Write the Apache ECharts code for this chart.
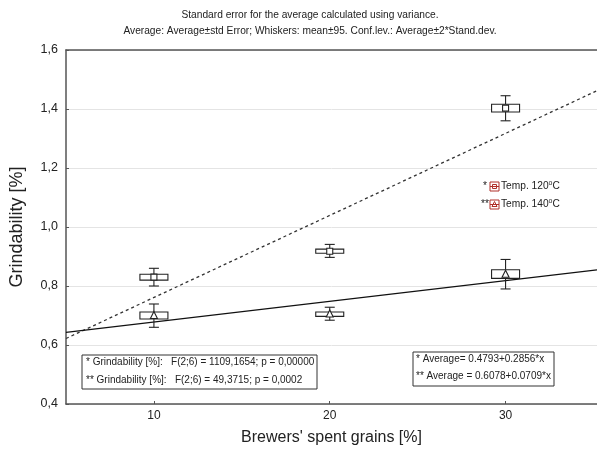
<!DOCTYPE html>
<html><head><meta charset="utf-8">
<script src="https://cdn.jsdelivr.net/npm/echarts@6/dist/echarts.min.js"></script>
<style>html,body{margin:0;padding:0;background:#fff}#c{width:597px;height:451px}</style>
</head><body><div id="c"></div>
<script>
// ---- data ----
const categories = [10, 20, 30];
const mean120 = [0.830, 0.918, 1.403];
const boxLo120 = [0.820, 0.911, 1.390];
const boxHi120 = [0.840, 0.925, 1.416];
const whLo120 = [0.800, 0.897, 1.360];
const whHi120 = [0.860, 0.941, 1.445];

const mean140 = [0.700, 0.705, 0.840];
const boxLo140 = [0.688, 0.697, 0.826];
const boxHi140 = [0.712, 0.712, 0.855];
const whLo140 = [0.660, 0.684, 0.790];
const whHi140 = [0.739, 0.728, 0.890];

// regression line endpoints
const fit120 = [[5, 0.622], [35.2, 1.462]];
const fit140 = [[5, 0.643], [35.2, 0.855]];

const xTicks = [10, 20, 30];
const titleLines = ["Standard error for the average calculated using variance.",
  "Average: Average±std Error; Whiskers: mean±95. Conf.lev.: Average±2*Stand.dev."];
const statLines = ["* Grindability [%]:   F(2;6) = 1109,1654; p = 0,00000",
  "** Grindability [%]:   F(2;6) = 49,3715; p = 0,0002"];
const eqLines = ["* Average= 0.4793+0.2856*x", "** Average = 0.6078+0.0709*x"];

const FONT = "'Liberation Sans', Arial, sans-serif";
const chart = echarts.init(document.getElementById('c'), null, {renderer: 'canvas'});

function mk(means, lo, hi, wl, wh) {
  return categories.map((x, i) => [x, means[i], lo[i], hi[i], wl[i], wh[i]]);
}
function boxRender(shape) {
  return function (params, api) {
    const x = api.value(0);
    const c = api.coord([x, api.value(1)]);
    const pLo = api.coord([x, api.value(2)]);
    const pHi = api.coord([x, api.value(3)]);
    const pWl = api.coord([x, api.value(4)]);
    const pWh = api.coord([x, api.value(5)]);
    const hw = 14, cw = 5;
    const st = {stroke: '#222', lineWidth: 1.1, fill: null};
    const kids = [
      {type: 'line', shape: {x1: c[0], y1: pWh[1], x2: c[0], y2: pHi[1]}, style: st},
      {type: 'line', shape: {x1: c[0], y1: pLo[1], x2: c[0], y2: pWl[1]}, style: st},
      {type: 'line', shape: {x1: c[0] - cw, y1: pWh[1], x2: c[0] + cw, y2: pWh[1]}, style: st},
      {type: 'line', shape: {x1: c[0] - cw, y1: pWl[1], x2: c[0] + cw, y2: pWl[1]}, style: st},
      {type: 'rect', shape: {x: c[0] - hw, y: pHi[1], width: 2 * hw, height: pLo[1] - pHi[1]},
        style: {stroke: '#222', lineWidth: 1.1, fill: '#fff'}}
    ];
    if (shape === 'square') {
      kids.push({type: 'rect', shape: {x: c[0] - 3, y: c[1] - 3, width: 6, height: 6},
        style: {stroke: '#222', lineWidth: 1.1, fill: '#fff'}});
    } else {
      kids.push({type: 'polygon', shape: {points: [[c[0], c[1] - 4], [c[0] + 3.5, c[1] + 3], [c[0] - 3.5, c[1] + 3]]},
        style: {stroke: '#222', lineWidth: 1.1, fill: '#fff'}});
    }
    return {type: 'group', children: kids};
  };
}

function legendIcon(x, y, shape) {
  const kids = [
    {type: 'rect', shape: {x: x, y: y, width: 9, height: 9}, style: {stroke: '#b0302a', lineWidth: 1, fill: '#fff'}},
    {type: 'line', shape: {x1: x, y1: y + 4.5, x2: x + 9, y2: y + 4.5}, style: {stroke: '#b0302a', lineWidth: 1}}
  ];
  if (shape === 'square') kids.push({type: 'rect', shape: {x: x + 2.5, y: y + 2.5, width: 4, height: 4}, style: {stroke: '#b0302a', lineWidth: 1, fill: null}});
  else kids.push({type: 'polygon', shape: {points: [[x + 4.5, y + 1.5], [x + 7, y + 6.5], [x + 2, y + 6.5]]}, style: {stroke: '#b0302a', lineWidth: 1, fill: null}});
  return {type: 'group', children: kids};
}

const rich = {sup: {fontSize: 7, verticalAlign: 'top', padding: [0, 0, 5, 0], fontFamily: FONT, fill: '#222'}};
const F10 = '10.2px ' + FONT;

chart.setOption({
  animation: false,
  textStyle: {fontFamily: FONT},
  grid: {left: 64, top: 50, width: 533, height: 354, containLabel: false},
  xAxis: [{
    type: 'value', min: 5, max: 35.2, position: 'bottom',
    name: "Brewers' spent grains [%]", nameLocation: 'middle', nameGap: 26,
    nameTextStyle: {fontSize: 16, color: '#222', fontFamily: FONT},
    axisLine: {show: true, lineStyle: {color: '#555', width: 1.5}},
    axisTick: {show: true, inside: true, length: 3, customValues: xTicks, lineStyle: {color: '#555'}},
    axisLabel: {customValues: xTicks, fontSize: 12, color: '#222', margin: 6, fontFamily: FONT},
    splitLine: {show: false}
  }, {
    type: 'value', min: 5, max: 35.2, position: 'top',
    axisLine: {show: true, lineStyle: {color: '#555', width: 1.5}},
    axisTick: {show: false}, axisLabel: {show: false}, splitLine: {show: false}
  }],
  yAxis: {
    type: 'value', min: 0.4, max: 1.6, interval: 0.2,
    name: 'Grindability [%]', nameLocation: 'middle', nameGap: 40, nameRotate: 90,
    nameTextStyle: {fontSize: 18, color: '#222', fontFamily: FONT},
    axisLine: {show: true, lineStyle: {color: '#555', width: 1.5}},
    axisTick: {show: true, inside: true, length: 3, lineStyle: {color: '#555'}},
    axisLabel: {fontSize: 12.5, color: '#222', margin: 8, fontFamily: FONT,
      formatter: v => v.toFixed(1).replace('.', ',')},
    splitLine: {show: true, lineStyle: {color: '#e4e4e4', width: 1}}
  },
  series: [
    {type: 'line', data: fit120, symbol: 'none', clip: true,
      lineStyle: {color: '#333', width: 1.3, type: [3, 3]}, z: 2},
    {type: 'line', data: fit140, symbol: 'none', clip: true,
      lineStyle: {color: '#111', width: 1.2}, z: 2},
    {type: 'custom', data: mk(mean120, boxLo120, boxHi120, whLo120, whHi120),
      renderItem: boxRender('square'), z: 3},
    {type: 'custom', data: mk(mean140, boxLo140, boxHi140, whLo140, whHi140),
      renderItem: boxRender('triangle'), z: 3}
  ],
  graphic: [
    {type: 'text', x: 310, y: 10, style: {text: titleLines[0], font: F10, fill: '#222', align: 'center'}},
    {type: 'text', x: 310, y: 26, style: {text: titleLines[1], font: F10, fill: '#222', align: 'center'}},
    {type: 'rect', shape: {x: 82, y: 355, width: 235, height: 34}, style: {fill: '#fff', stroke: '#333', lineWidth: 1}, z: 10},
    {type: 'text', x: 86, y: 357, style: {text: statLines[0], font: '10px ' + FONT, fill: '#222'}, z: 11},
    {type: 'text', x: 86, y: 375, style: {text: statLines[1], font: '10px ' + FONT, fill: '#222'}, z: 11},
    {type: 'rect', shape: {x: 413, y: 352, width: 141, height: 34}, style: {fill: '#fff', stroke: '#333', lineWidth: 1}, z: 10},
    {type: 'text', x: 416, y: 354, style: {text: eqLines[0], font: '10px ' + FONT, fill: '#222'}, z: 11},
    {type: 'text', x: 416, y: 371, style: {text: eqLines[1], font: '10px ' + FONT, fill: '#222'}, z: 11},
    {type: 'text', x: 483, y: 181, style: {text: '*', font: F10, fill: '#222'}},
    legendIcon(490, 182, 'square'),
    {type: 'text', x: 501, y: 180, style: {text: 'Temp. 120{sup|o}C', font: F10, fill: '#222', rich: rich}},
    {type: 'text', x: 481, y: 199, style: {text: '**', font: F10, fill: '#222'}},
    legendIcon(490, 200, 'triangle'),
    {type: 'text', x: 501, y: 198, style: {text: 'Temp. 140{sup|o}C', font: F10, fill: '#222', rich: rich}}
  ]
});
</script></body></html>
